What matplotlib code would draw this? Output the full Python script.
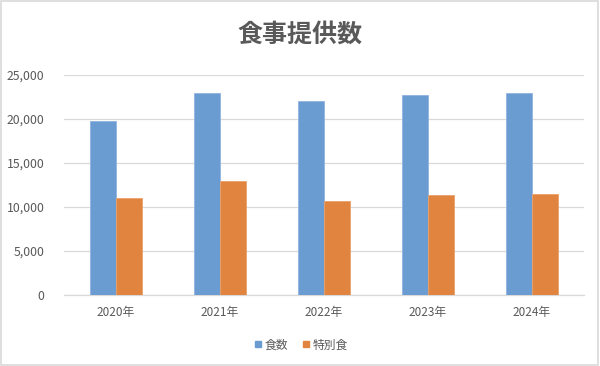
import matplotlib
matplotlib.use("Agg")
import matplotlib.pyplot as plt
import numpy as np
from matplotlib.lines import Line2D
from matplotlib.patches import Rectangle

plt.rcParams['font.family'] = ['Noto Sans CJK JP', 'DejaVu Sans']

categories = ["2020年", "2021年", "2022年", "2023年", "2024年"]
meals = [19800, 23000, 22100, 22700, 22900]
special = [11000, 12900, 10650, 11400, 11500]
series_names = ["食数", "特別食"]
yticks = [0, 5000, 10000, 15000, 20000, 25000]

blue = "#6a9bd1"
orange = "#e0843f"
txt = "#595959"

fig = plt.figure(figsize=(6, 3.66), dpi=100)
fig.patches.append(Rectangle((0.002, 0.003), 0.995, 0.994, transform=fig.transFigure,
                             fill=False, edgecolor="#d9d9d9", linewidth=1.2))
ax = fig.add_axes([64/600, 1-295/366, 520/600, 220/366])

x = np.arange(len(categories))
w = 0.25
ax.bar(x - w/2, meals, w, color=blue, edgecolor="#8fb4e0", linewidth=0.6, zorder=3)
ax.bar(x + w/2, special, w, color=orange, edgecolor="#eba06a", linewidth=0.6, zorder=3)

ax.set_xlim(-0.5, len(categories) - 0.5)
ax.set_ylim(0, 25000)
ax.set_yticks(yticks)
ax.set_yticklabels([f"{v:,}" for v in yticks], fontsize=8.8, color=txt)
ax.set_xticks(x)
ax.set_xticklabels(categories, fontsize=8.5, color=txt)
ax.tick_params(axis='both', length=0)
ax.tick_params(axis='y', pad=14)
ax.tick_params(axis='x', pad=8)
ax.grid(axis='y', color="#d9d9d9", linewidth=0.9, zorder=0)
for s in ["top", "right", "left"]:
    ax.spines[s].set_visible(False)
ax.spines["bottom"].set_color("#d9d9d9")
ax.spines["bottom"].set_linewidth(0.9)

fig.text(0.5, 1-35/366, "食事提供数", ha='center', va='center', fontsize=18,
         color=txt, fontweight='bold')

handles = [Line2D([], [], marker='s', linestyle='none', markersize=5, color=blue),
           Line2D([], [], marker='s', linestyle='none', markersize=5, color=orange)]
fig.legend(handles, series_names, loc='center', bbox_to_anchor=(0.5, 1-345/366),
           ncol=2, frameon=False, fontsize=8.5, labelcolor=txt,
           handletextpad=0.1, columnspacing=1.0, handlelength=1.0)

fig.savefig("out.png", dpi=100, facecolor="white")
